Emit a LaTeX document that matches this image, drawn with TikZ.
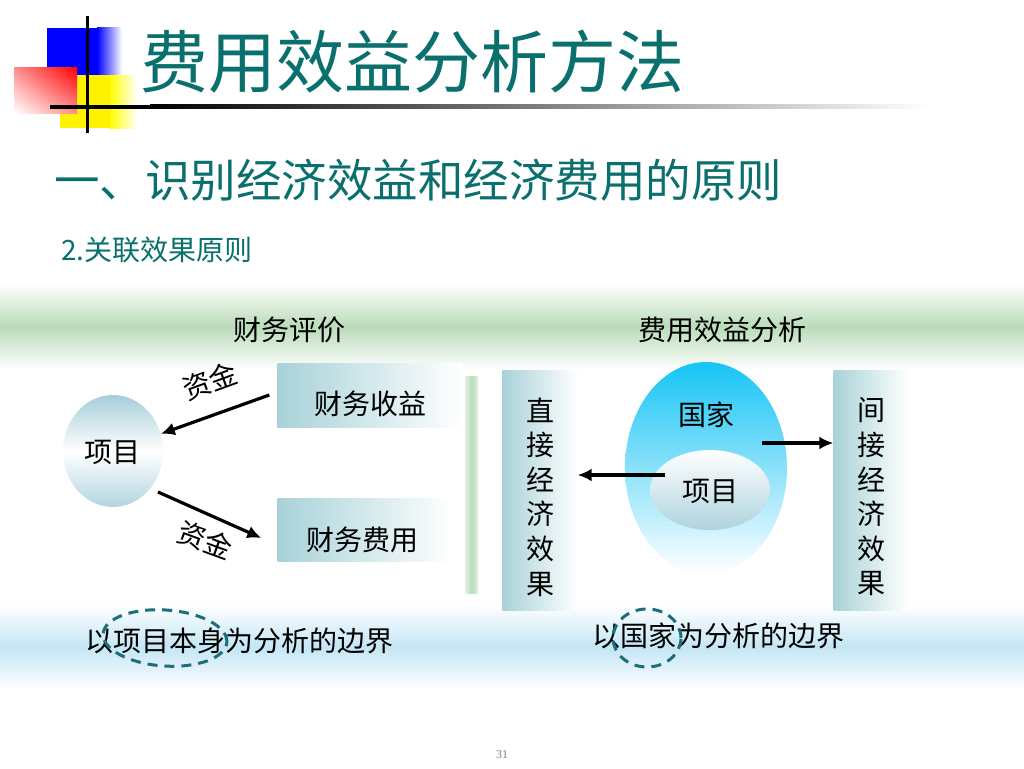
\documentclass[tikz,border=0pt]{standalone}
\usepackage{fontspec}
\setmainfont{Noto Sans CJK SC}
\newfontfamily\pagefont{Liberation Serif}
\usetikzlibrary{arrows.meta,shapes.geometric,shadings}

\definecolor{titel}{RGB}{10,112,110}
\definecolor{kasten}{RGB}{168,210,216}
\definecolor{kreis}{RGB}{165,206,218}
\definecolor{ei}{RGB}{22,196,245}
\definecolor{gruen}{RGB}{186,220,186}
\definecolor{hblau}{RGB}{196,230,245}
\definecolor{strich}{RGB}{30,110,122}

\tikzset{
  txt/.style={inner sep=0pt, font=\fontsize{28}{34}\selectfont},
  kastenL/.style={rectangle, inner sep=0pt, left color=kasten, right color=white},
  arr/.style={line width=3.2pt, -{Latex[length=14pt,width=13pt]}},
  rand/.style={strich, line width=3pt, dash pattern=on 10pt off 7pt}
}

\begin{document}
\begin{tikzpicture}[x=1pt,y=-1pt]

  \useasboundingbox (0,0) rectangle (1024,768);
  \fill[white] (0,0) rectangle (1024,768);

  % Logo
  \fill[blue] (47,28) rectangle (97,75);
  \shade[left color=blue, right color=white] (97,28) rectangle (122,75);
  \fill[yellow] (60,75) rectangle (110,128);
  \shade[left color=yellow, right color=white] (110,75) rectangle (137,128);
  \shade[upper left=red!45!white, upper right=red, lower left=white, lower right=red!45!white]
    (14,67) rectangle (77,113);
  \fill[black] (85.5,16) rectangle (88.5,133);
  \fill[black] (50,104.5) rectangle (150,108.5);
  \shade[left color=black, right color=white] (150,104.5) rectangle (930,108.5);

  % Titel
  \node[inner sep=0pt, anchor=west, titel, font=\fontsize{68}{72}\selectfont] (titel) at (140,62) {费用效益分析方法};
  \node[inner sep=0pt, anchor=west, titel, font=\fontsize{45.5}{50}\selectfont] (untertitel) at (54,180) {一、识别经济效益和经济费用的原则};
  \node[inner sep=0pt, anchor=west, titel, font=\fontsize{28}{32}\selectfont] (punkt) at (61,250) {2.关联效果原则};

  % Baender
  \shade[top color=white, bottom color=white, middle color=gruen] (0,283) rectangle (1024,370);
  \shade[top color=white, bottom color=white, middle color=hblau] (0,604) rectangle (1024,690);

  % Ueberschriften
  \node[txt] (fin) at (289,330) {财务评价};
  \node[txt] (kna) at (722,330) {费用效益分析};

  % linke Seite
  \node[ellipse, inner sep=0pt, minimum width=100pt, minimum height=112pt,
        top color=kreis, bottom color=kreis!85, middle color=white] (xm) at (113,451) {};
  \node[txt] (xmT) at (112,452) {项目};
  \node[kastenL, minimum width=185pt, minimum height=64pt] (shouyi) at (370,395) {};
  \node[txt] (shouyiT) at (370,404) {财务收益};
  \node[kastenL, minimum width=175pt, minimum height=63pt] (feiyong) at (365,530) {};
  \node[txt] (feiyongT) at (362,540) {财务费用};
  \shade[left color=gruen!40, right color=gruen!40, middle color=gruen] (465,376) rectangle (478,593);

  \coordinate (f0) at (158,492);
  \draw[arr] ([xshift=-8pt]shouyi.west) -- (xm);
  \draw[arr] (f0) -- ([xshift=-16pt,yshift=-8pt]feiyong.west);
  \node[txt, rotate=20] (zj1) at (210,381) {资金};
  \node[txt, rotate=-20] (zj2) at (205,540) {资金};

  % rechte Seite
  \node[kastenL, minimum width=75pt, minimum height=240pt] (zhijie) at (540,490) {};
  \node[txt, align=center, font=\fontsize{28}{34.6}\selectfont] (zhijieT) at (540,497) {直\\接\\经\\济\\效\\果};
  \node[kastenL, minimum width=75pt, minimum height=240pt] (jianjie) at (871,490) {};
  \node[txt, align=center, font=\fontsize{28}{34.6}\selectfont] (jianjieT) at (871,497) {间\\接\\经\\济\\效\\果};

  \node[ellipse, inner sep=0pt, minimum width=162pt, minimum height=212pt,
        top color=ei, bottom color=white] (guojia) at (706,468) {};
  \node[txt] (guojiaT) at (706,415) {国家};
  \node[ellipse, inner sep=0pt, minimum width=120pt, minimum height=80pt,
        top color=white, bottom color=kreis!90] (xm2) at (710,490) {};
  \node[txt] (xm2T) at (710,491) {项目};

  \coordinate (g0) at (665,475);
  \coordinate (g1) at (762,443);
  \draw[arr] (g0) -- (g0 -| zhijie.east);
  \draw[arr] (g1) -- (g1 -| jianjie.west);

  % Grenzen
  \node[txt] (grenze1) at (239,641) {以项目本身为分析的边界};
  \node[txt] (grenze2) at (718,636) {以国家为分析的边界};
  \draw[rand, rotate around={-4:(165,638)}] (165,638) ellipse (62pt and 28pt);
  \draw[rand] (647,638) ellipse (34pt and 29pt);

  % Seitenzahl
  \node[inner sep=0pt, gray, font=\pagefont\fontsize{12}{14}\selectfont] (seite) at (502,755) {31};

\end{tikzpicture}
\end{document}
